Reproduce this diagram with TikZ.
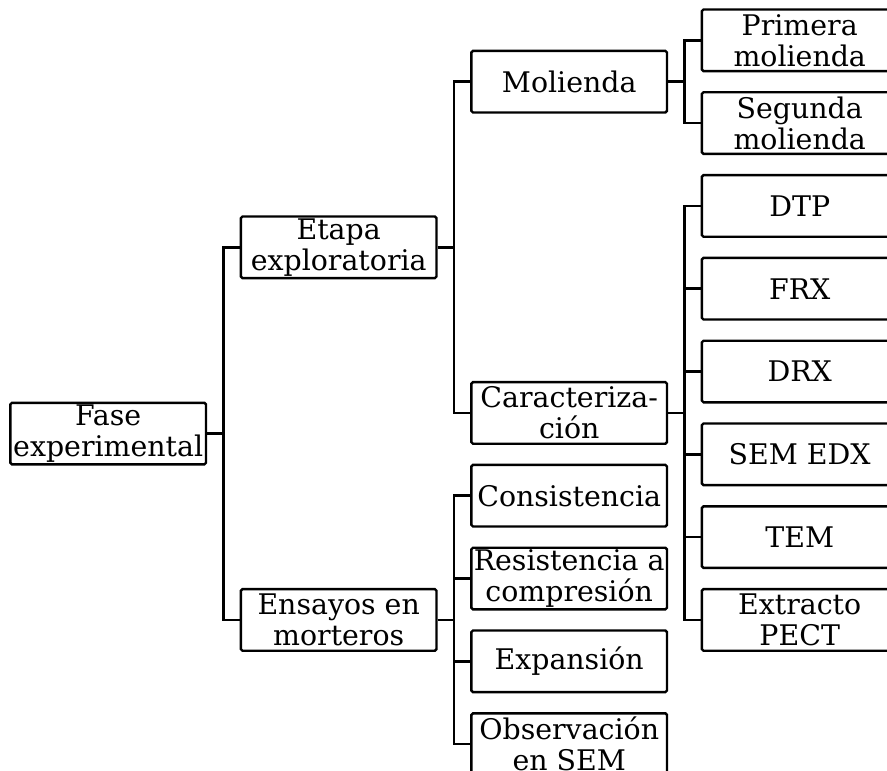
\documentclass[tikz,border=0pt]{standalone}
\usepackage{fontspec}
\setmainfont{DejaVu Serif}
\usetikzlibrary{positioning,calc}

\tikzset{
  box/.style={draw, line width=1.2pt, rounded corners=0.8pt, minimum width=97.8pt,
    minimum height=30.8pt, inner sep=0pt, align=center,
    font=\fontsize{14.2}{15.5}\selectfont},
  link/.style={line width=1.35pt},
}

\begin{document}
\begin{tikzpicture}[node distance=9.4pt and 16.25pt]

  \useasboundingbox (-399.85pt,20.15pt) rectangle (43.65pt,-364.85pt);
  \clip (-399.85pt,20.15pt) rectangle (43.65pt,-364.85pt);

  % Define nodes
  \node[box]                (m1)   at (0,0) {Primera\\molienda};
  \node[box, below=of m1]   (m2)   {Segunda\\molienda};
  \node[box, below=of m2]   (dtp)  {DTP};
  \node[box, below=of dtp]  (frx)  {FRX};
  \node[box, below=of frx]  (drx)  {DRX};
  \node[box, below=of drx]  (sem)  {SEM EDX};
  \node[box, below=of sem]  (tem)  {TEM};
  \node[box, below=of tem]  (pect) {Extracto\\PECT};
  \node[box, left=of $(m1.west)!0.5!(m2.west)$]    (mol)  {Molienda};
  \node[box, left=of $(dtp.west)!0.5!(pect.west)$] (car)  {Caracteriza-\\ción};
  \node[box, below=of car]  (cons) {Consistencia};
  \node[box, below=of cons] (res)  {Resistencia a\\compresión};
  \node[box, below=of res]  (expa) {Expansión};
  \node[box, below=of expa] (obs)  {Observación\\en SEM};
  \node[box, left=of $(mol.west)!0.5!(car.west)$]    (etapa)   {Etapa\\exploratoria};
  \node[box, left=of $(cons.west)!0.5!(obs.west)$]   (ensayos) {Ensayos en\\morteros};
  \node[box, left=of $(etapa.west)!0.5!(ensayos.west)$] (fase) {Fase\\experimental};

  % Connect the nodes
  \draw[link] (fase.east) -- ++(8.1pt,0) |- (etapa.west);
  \draw[link] (fase.east) -- ++(8.1pt,0) |- (ensayos.west);
  \draw[link] (etapa.east) -- ++(8.1pt,0) |- (mol.west);
  \draw[link] (etapa.east) -- ++(8.1pt,0) |- (car.west);
  \draw[link] (mol.east) -- ++(8.1pt,0) |- (m1.west);
  \draw[link] (mol.east) -- ++(8.1pt,0) |- (m2.west);
  \draw[link] (car.east) -- ++(8.1pt,0) |- (dtp.west);
  \draw[link] (car.east) -- ++(8.1pt,0) |- (frx.west);
  \draw[link] (car.east) -- ++(8.1pt,0) |- (drx.west);
  \draw[link] (car.east) -- ++(8.1pt,0) |- (sem.west);
  \draw[link] (car.east) -- ++(8.1pt,0) |- (tem.west);
  \draw[link] (car.east) -- ++(8.1pt,0) |- (pect.west);
  \draw[link] (ensayos.east) -- ++(8.1pt,0) |- (cons.west);
  \draw[link] (ensayos.east) -- ++(8.1pt,0) |- (res.west);
  \draw[link] (ensayos.east) -- ++(8.1pt,0) |- (expa.west);
  \draw[link] (ensayos.east) -- ++(8.1pt,0) |- (obs.west);

\end{tikzpicture}
\end{document}
